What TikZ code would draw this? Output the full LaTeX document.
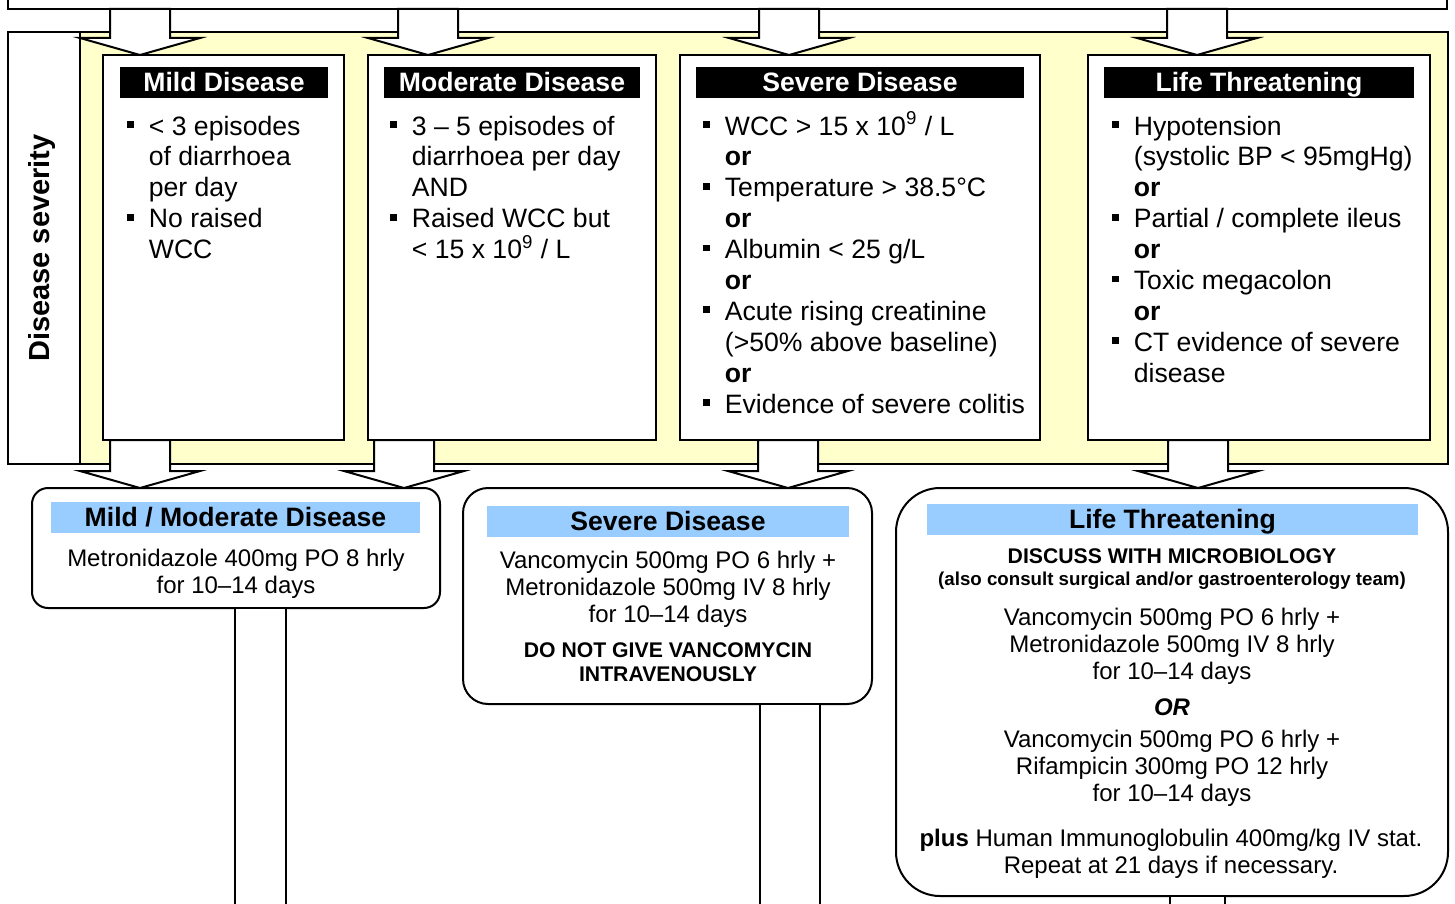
\documentclass[tikz,border=0pt]{standalone}
\usepackage{fontspec}
\setmainfont{Liberation Sans}
\usetikzlibrary{calc}

\definecolor{paleyellow}{HTML}{FFFFCC}
\definecolor{headblue}{HTML}{99CCFF}

\newcommand\bul{\makebox[10.75pt][l]{\rule[3.6pt]{3.4pt}{3.4pt}}}
\newcommand\ind{\hspace*{10.75pt}}

% block arrow from node #1 down to node #2, centred on coordinate #3
\newcommand\blockarrow[3]{%
  \draw[barrow] ($(#1.south -| #3)+(-30,0)$) -- ($(#2.north -| #3)+(-30,-17)$)
    -- ++(-30,0) -- (#2.north -| #3) -- ($(#2.north -| #3)+(60,-17)$)
    -- ++(-30,0) -- ($(#1.south -| #3)+(30,0)$) -- cycle;}

\begin{document}
\begin{tikzpicture}
  [
    x=0.5pt, y=-0.5pt,
    panel/.style =
      {draw, line width=1pt, fill=white, inner sep=0pt, outer sep=0pt},
    headbar/.style =
      {fill=black, text=white, inner sep=0pt, outer sep=0pt, text height=8.5pt,
       text depth=0pt, font=\bfseries\fontsize{13.3}{15.4}\selectfont},
    bluebar/.style =
      {fill=headblue, inner sep=0pt, outer sep=0pt, text height=9pt,
       text depth=0pt, font=\bfseries\fontsize{13.3}{15.4}\selectfont},
    list/.style =
      {align=left, inner sep=0pt, font=\fontsize{13.3}{15.45}\selectfont},
    body/.style =
      {align=center, inner sep=0pt, font=\fontsize{12}{13.7}\selectfont},
    note/.style =
      {align=center, inner sep=0pt, font=\bfseries\fontsize{10.6}{12.4}\selectfont},
    barrow/.style =
      {draw, line width=1pt, fill=white, line join=miter}
  ]

\useasboundingbox (0,0) rectangle (1455,904);
\clip (0,0) rectangle (1455,904);

% severity panel
\node[panel, minimum width=719.5pt, minimum height=14.5pt] (top) at (727.5,-5.5) {};
\node[panel, fill=paleyellow, minimum width=684pt, minimum height=216pt] (band) at (764,248) {};
\node[panel, minimum width=36pt, minimum height=216pt] (side) at (44,248) {};
\node[rotate=90, inner sep=0pt, font=\bfseries\fontsize{14.5}{17}\selectfont] (sidetxt) at (42,248) {Disease severity};

\node[panel, minimum width=120.5pt, minimum height=192.5pt] (mild) at (223.5,247.5) {};
\node[panel, minimum width=144pt, minimum height=192.5pt] (moderate) at (512,247.5) {};
\node[panel, minimum width=180pt, minimum height=192.5pt] (severe) at (860,247.5) {};
\node[panel, minimum width=171pt, minimum height=192.5pt] (life) at (1259,247.5) {};

\node[headbar, minimum width=104pt, minimum height=15.5pt] (mildhead) at (224,82.5) {Mild Disease};
\node[headbar, minimum width=128pt, minimum height=15.5pt] (modhead) at (512,82.5) {Moderate Disease};
\node[headbar, minimum width=164pt, minimum height=15.5pt] (sevhead) at (860,82.5) {Severe Disease};
\node[headbar, minimum width=155pt, minimum height=15.5pt] (lifehead) at (1259,82.5) {Life Threatening};

% lists: placed by the baseline of their last line
\node[list, anchor=base west] (mildtxt) at (127,258.6)
  {\bul < 3 episodes\\ \ind of diarrhoea\\ \ind per day\\ \bul No raised\\ \ind WCC};
\node[list, anchor=base west] (modtxt) at (390,258.6)
  {\bul 3 – 5 episodes of\\ \ind diarrhoea per day\\ \ind AND\\
   \bul Raised WCC but\\ \ind < 15 x 10\textsuperscript{9} / L};
\node[list, anchor=base west] (sevtxt) at (703,413.1)
  {\bul WCC > 15 x 10\textsuperscript{9} / L\\ \ind\textbf{or}\\
   \bul Temperature > 38.5°C\\ \ind\textbf{or}\\
   \bul Albumin < 25 g/L\\ \ind\textbf{or}\\
   \bul Acute rising creatinine\\ \ind (>50\% above baseline)\\ \ind\textbf{or}\\
   \bul Evidence of severe colitis};
\node[list, anchor=base west] (lifetxt) at (1112,382.2)
  {\bul Hypotension\\ \ind (systolic BP < 95mgHg)\\ \ind\textbf{or}\\
   \bul Partial / complete ileus\\ \ind\textbf{or}\\
   \bul Toxic megacolon\\ \ind\textbf{or}\\
   \bul CT evidence of severe\\ \ind disease};

% treatment boxes
\node[panel, rounded corners=8pt, minimum width=204pt, minimum height=60pt] (mm) at (236,548) {};
\node[panel, rounded corners=12.5pt, minimum width=204.5pt, minimum height=108pt] (sv) at (667.5,596) {};
\node[panel, rounded corners=22pt, minimum width=276pt, minimum height=204pt] (lt) at (1172,692) {};

\node[bluebar, minimum width=184.5pt, minimum height=15.5pt] (mmhead) at (235.5,517.5) {Mild / Moderate Disease};
\node[bluebar, minimum width=181pt, minimum height=15.5pt] (svhead) at (668,521.5) {Severe Disease};
\node[bluebar, minimum width=245.5pt, minimum height=15.5pt] (lthead) at (1172.5,519.5) {Life Threatening};

\node[body, anchor=base] (mmtxt) at (236,593.4) {Metronidazole 400mg PO 8 hrly\\for 10–14 days};
\node[body, anchor=base] (svtxt) at (668,622.8)
  {Vancomycin 500mg PO 6 hrly +\\Metronidazole 500mg IV 8 hrly\\for 10–14 days};
\node[note, anchor=base] (svnote) at (668,681.8) {DO NOT GIVE VANCOMYCIN\\INTRAVENOUSLY};
\node[note, anchor=base] (ltnote) at (1172,563) {DISCUSS WITH MICROBIOLOGY};
\node[note, anchor=base, font=\bfseries\fontsize{9.35}{11}\selectfont] (ltsub) at (1172,585)
  {(also consult surgical and/or gastroenterology team)};
\node[body, anchor=base] (ltA) at (1172,679.8)
  {Vancomycin 500mg PO 6 hrly +\\Metronidazole 500mg IV 8 hrly\\for 10–14 days};
\node[body, anchor=base, font=\bfseries\itshape\fontsize{12}{13.7}\selectfont] (ltor) at (1172,715) {OR};
\node[body, anchor=base] (ltB) at (1172,801.8)
  {Vancomycin 500mg PO 6 hrly +\\Rifampicin 300mg PO 12 hrly\\for 10–14 days};
\node[body, anchor=base] (ltC) at (1171,873.4)
  {\textbf{plus} Human Immunoglobulin 400mg/kg IV stat.\\Repeat at 21 days if necessary.};

% arrows
\coordinate (a1) at (140,0);
\coordinate (a2) at (428,0);
\coordinate (a3) at (789,0);
\coordinate (a4) at (1197,0);
\blockarrow{top}{mild}{a1}
\blockarrow{top}{moderate}{a2}
\blockarrow{top}{severe}{a3}
\blockarrow{top}{life}{a4}

\coordinate (b1) at (140,0);
\coordinate (b2) at (404,0);
\coordinate (b3) at (788,0);
\coordinate (b4) at (1198,0);
\blockarrow{mild}{mm}{b1}
\blockarrow{moderate}{mm}{b2}
\blockarrow{severe}{sv}{b3}
\blockarrow{life}{lt}{b4}

\coordinate (endA) at (260.5,930);
\coordinate (endB) at (790,930);
\coordinate (endC) at (1197.5,930);
\draw[barrow] ($(mm.south -| endA)+(-25.5,0)$) rectangle ($(endA)+(25.5,0)$);
\draw[barrow] ($(sv.south -| endB)+(-30,0)$) rectangle ($(endB)+(30,0)$);
\draw[barrow] ($(lt.south -| endC)+(-27.5,0)$) rectangle ($(endC)+(27.5,0)$);

\end{tikzpicture}
\end{document}
